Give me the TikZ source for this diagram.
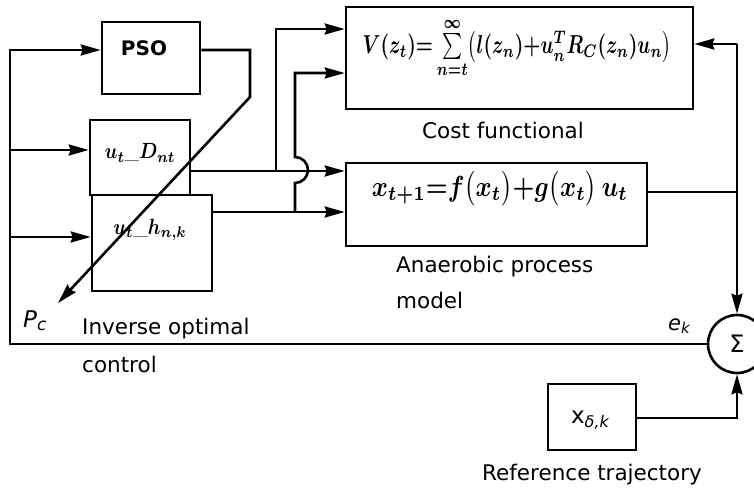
\documentclass[tikz,border=0pt]{standalone}
\usepackage{amsmath}
\usepackage{fontspec}
\usetikzlibrary{arrows.meta}
\newfontfamily\labfont{DejaVu Sans}

\tikzset{
  wire/.style={line width=2.6pt, line join=miter},
  arr/.style={wire, -{Stealth[length=20pt,width=11pt,inset=2pt]}},
  blk/.style={draw, line width=2.6pt, rectangle, inner sep=0pt},
  caption/.style={font=\labfont\fontsize{21.5}{24}\selectfont, inner sep=0pt, anchor=base west},
  frm/.style={inner sep=0pt},
}

\begin{document}
\begin{tikzpicture}[x=1pt, y=-1pt]
\useasboundingbox (0,0) rectangle (754,488);

% blocks
\node[blk, minimum width=98pt,  minimum height=72pt]  (pso)   at (151,58)    {};
\node[blk, minimum width=100pt, minimum height=75pt]  (ud)    at (140,157.5) {};
\node[blk, minimum width=120pt, minimum height=96pt]  (uh)    at (152,243)   {};
\node[blk, minimum width=347pt, minimum height=102pt] (cost)  at (519.5,58)  {};
\node[blk, minimum width=301pt, minimum height=83pt]  (model) at (496.5,204.5) {};
\node[blk, minimum width=88pt,  minimum height=66pt]  (ref)   at (592,417)   {};
\node[draw, line width=2.6pt, circle, minimum size=58pt, inner sep=0pt] (sig) at (737,344)
  {\labfont\fontsize{24}{26}\selectfont Σ};

% block contents
\node[frm] (psot) at (144,48) {\labfont\bfseries\fontsize{20}{22}\selectfont PSO};
\node[frm] (udt) at (140,153) {\scalebox{1.9}[2.2]{$\boldsymbol{u_t\_D_{nt}}$}};
\node[frm] (uht) at (150,230) {\scalebox{1.9}[2.2]{$\boldsymbol{u_t\_h_{n,k}}$}};
\node[frm] (costt) at (517,48)
  {\scalebox{1.92}[2.6]{$\boldsymbol{V(z_t){=}\sum\limits_{n=t}^{\infty}\bigl(l(z_n){+}u_n^{T}R_C(z_n)u_n\bigr)}$}};
\node[frm] (modelt) at (500,189)
  {\scalebox{2.45}[2.9]{$\boldsymbol{x_{t+1}{=}f\bigl(x_t\bigr){+}g\bigl(x_t\bigr)\,u_t}$}};
\node[frm] (reft) at (590,420)
  {\labfont\fontsize{23}{25}\selectfont x\raisebox{-0.35ex}{\fontsize{16}{18}\selectfont\itshape δ,k}};

% captions
\node[caption] (capcost) at (422,138) {Cost functional};
\node[caption] (capm1)   at (396,272) {Anaerobic process};
\node[caption] (capm2)   at (396,308) {model};
\node[caption] (capi1)   at (82,334)  {Inverse optimal};
\node[caption] (capi2)   at (82,372)  {control};
\node[caption] (capref)  at (482,480) {Reference trajectory};
\node[caption] (pcl) at (23,327) {\fontsize{23}{25}\selectfont\itshape P\raisebox{-0.3ex}{\fontsize{17}{19}\selectfont c}};
\node[caption] (ekl) at (668,330) {\fontsize{21}{23}\selectfont\itshape e\raisebox{-0.3ex}{\fontsize{15}{17}\selectfont k}};

% routing points
\coordinate (pb) at (250,50);
\coordinate (pk) at (250,97);
\coordinate (pc) at (58,303);
\coordinate (lb) at (10,344);
\coordinate (lt) at (10,50);
\coordinate (l1) at (10,150);
\coordinate (l2) at (10,237);
\coordinate (o1) at (276,171);
\coordinate (o1t) at (276,29);
\coordinate (o2) at (295,212);
\coordinate (o2t) at (295,73);
\coordinate (fb) at (737,44);
\coordinate (mo) at (737,192);
\coordinate (rr) at (737,418);

% PSO output to the controller parameter
\draw[arr] (pso.east |- pb) -- (pb) -- (pk) -- (pc);

% error feedback bus on the left
\draw[arr] (sig.west) -- (lb) -- (lt) -- (pso.west |- lt);
\draw[arr] (l1) -- (ud.west |- l1);
\draw[arr] (l2) -- (uh.west |- l2);

% controller outputs
\draw[arr] (ud.east |- o1) -- (model.west |- o1);
\draw[arr] (o1) -- (o1t) -- (cost.west |- o1t);
\draw[arr] (uh.east |- o2) -- (model.west |- o2);
\draw[arr] (o2) -- (295,183) arc[start angle=90, end angle=-90, radius=13] -- (o2t) -- (cost.west |- o2t);

% plant output to cost and summing junction
\draw[wire] (model.east |- mo) -- (mo);
\draw[arr] (fb) -- (cost.east |- fb);
\draw[arr] (fb) -- (sig.north);

% reference trajectory
\draw[arr] (ref.east |- rr) -- (rr) -- (sig.south);
\end{tikzpicture}
\end{document}
